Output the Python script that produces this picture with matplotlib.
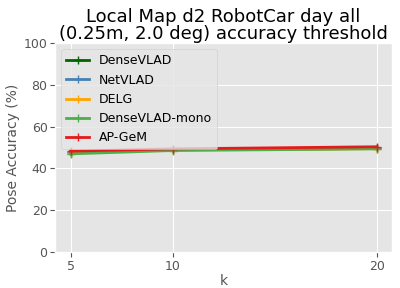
import matplotlib
matplotlib.use("Agg")
import matplotlib.pyplot as plt

plt.style.use('ggplot')

k_values = [5, 10, 20]
methods = ['DenseVLAD', 'NetVLAD', 'DELG', 'DenseVLAD-mono', 'AP-GeM']
colors = ['darkgreen', 'steelblue', 'orange', '#4daf4a', '#e41a1c']
accuracy = {
    'DenseVLAD': [47.6, 49.0, 49.6],
    'NetVLAD': [47.8, 49.1, 49.8],
    'DELG': [47.5, 48.9, 49.5],
    'DenseVLAD-mono': [47.0, 48.6, 49.4],
    'AP-GeM': [48.3, 49.4, 50.4],
}

fig, ax = plt.subplots(figsize=(4.0, 2.88), dpi=100)
for name, c in zip(methods, colors):
    ax.plot(k_values, accuracy[name], color=c, marker='+', markersize=6,
            markeredgewidth=1, linewidth=2, label=name)

ax.set_ylim(0, 100)
ax.set_xticks(k_values)
ax.tick_params(labelsize=9, pad=2)
ax.set_xlabel('k', fontsize=10, labelpad=1)
ax.set_ylabel('Pose Accuracy (%)', fontsize=10, labelpad=3)
ax.set_title('Local Map d2 RobotCar day all\n(0.25m, 2.0 deg) accuracy threshold',
             fontsize=13, pad=2, linespacing=0.95)
ax.legend(loc='upper left', fontsize=9, facecolor='#e5e5e5', framealpha=0.8,
          handlelength=1.8)
fig.subplots_adjust(left=0.138, right=0.98, top=0.85, bottom=0.125)
fig.savefig('out.png', dpi=100)
